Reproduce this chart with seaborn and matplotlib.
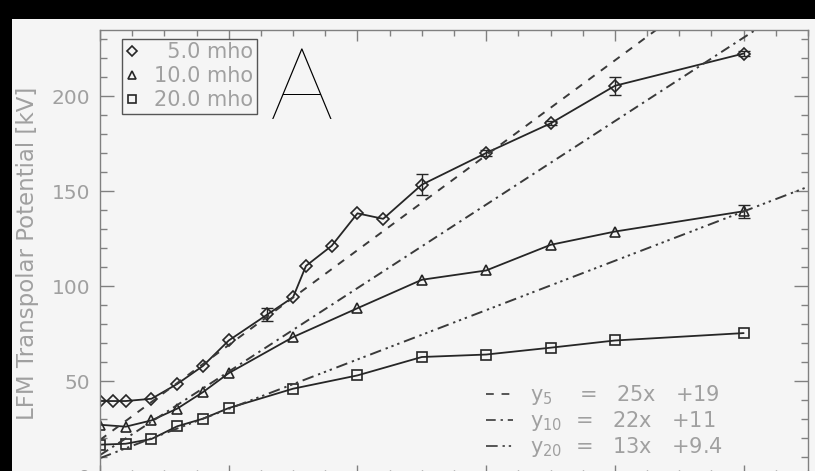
import numpy as np
import pandas as pd
import matplotlib
matplotlib.use("Agg")
import matplotlib.pyplot as plt
import seaborn as sns
from matplotlib.patches import Rectangle
from matplotlib.lines import Line2D
from matplotlib.ticker import MultipleLocator

# ---------------- data ----------------
series_labels = ["\u20075.0 mho", "10.0 mho", "20.0 mho"]
series_markers = ["D", "^", "s"]

x5 = [0.0, 0.2, 0.4, 0.8, 1.2, 1.6, 2.0, 2.6, 3.0, 3.2, 3.6, 4.0, 4.4, 5.0, 6.0, 7.0, 8.0, 10.0]
y5 = [39.5, 39.5, 39.5, 40.7, 48.5, 58.0, 71.4, 85.1, 94.2, 110.7, 121.3, 138.4, 135.5, 153.5, 170.2, 185.8, 205.6, 222.6]
e5 = [0, 0, 0, 0, 0, 0, 0, 3.5, 0, 0, 0, 0, 0, 5.7, 1.5, 1.0, 4.6, 1.5]

x10 = [0.0, 0.4, 0.8, 1.2, 1.6, 2.0, 3.0, 4.0, 5.0, 6.0, 7.0, 8.0, 10.0]
y10 = [27.0, 26.0, 29.3, 35.5, 44.2, 54.2, 73.2, 88.4, 103.4, 108.3, 121.8, 128.8, 139.5]
e10 = [0, 0, 0, 0, 0, 0, 0, 0, 0, 0, 0, 0, 3.5]

x20 = [0.0, 0.4, 0.8, 1.2, 1.6, 2.0, 3.0, 4.0, 5.0, 6.0, 7.0, 8.0, 10.0]
y20 = [16.5, 17.0, 19.5, 26.2, 30.2, 35.8, 46.0, 53.0, 62.7, 64.0, 67.6, 71.4, 75.3]
e20 = [0, 0, 0, 0, 0, 0, 0, 0, 0, 0, 0, 0, 0]

fit_slopes = [25, 22, 13]
fit_intercepts = [19, 11, 9.4]
fit_labels = [r"$\mathregular{y_{5}}$    =   25x   +19",
              r"$\mathregular{y_{10}}$  =   22x   +11",
              r"$\mathregular{y_{20}}$  =   13x   +9.4"]
fit_styles = [(0, (4, 4)), (0, (5, 2.5, 1.2, 2.5)), (0, (6, 2.5, 1.2, 2, 1.2, 2, 1.2, 2.5))]

y_label = "LFM Transpolar Potential [kV]"
panel_letter = "A"

# ---------------- style ----------------
sns.set_theme(style="ticks")
plt.rcParams["font.family"] = ["DejaVu Sans"]
BG = "#f5f5f5"
TXT = "#a0a0a0"
AX = "#808080"
INK = "#262626"

fig = plt.figure(figsize=(8.15, 4.71), dpi=100, facecolor=BG)
ax = fig.add_axes([100 / 815, -5 / 471, 708 / 815, 446 / 471])
ax.set_facecolor(BG)

# data series
xs = [x5, x10, x20]
ys = [y5, y10, y20]
es = [e5, e10, e20]
msizes = [6, 7.5, 7.5]
for x, y, e, lab, m, ms in zip(xs, ys, es, series_labels, series_markers, msizes):
    df = pd.DataFrame({"x": x, "y": y})
    sns.lineplot(data=df, x="x", y="y", ax=ax, color=INK, lw=1.3,
                 marker=m, markersize=ms, markerfacecolor="none",
                 markeredgecolor=INK, markeredgewidth=1.2, sort=False,
                 estimator=None, legend=False)
    e = np.asarray(e, float)
    mask = e > 0
    if mask.any():
        ax.errorbar(np.asarray(x)[mask], np.asarray(y)[mask], yerr=e[mask],
                    fmt="none", ecolor=INK, elinewidth=1.0, capsize=4, capthick=1.0)

# fit lines
xf = np.array([0.0, 11.0])
fit_handles = []
for s, b, ls in zip(fit_slopes, fit_intercepts, fit_styles):
    sns.lineplot(x=xf, y=s * xf + b, ax=ax, color="#3a3a3a", lw=1.4,
                 linestyle=ls, legend=False)
    fit_handles.append(Line2D([], [], color="#555555", lw=1.4, linestyle=ls))

ax.set_xlim(0, 11)
ax.set_ylim(0, 235)
ax.xaxis.set_major_locator(MultipleLocator(2))
ax.xaxis.set_minor_locator(MultipleLocator(0.5))
ax.yaxis.set_major_locator(MultipleLocator(50))
ax.yaxis.set_minor_locator(MultipleLocator(10))
ax.tick_params(axis="both", which="both", direction="in", top=True, right=True,
               color=AX, width=1.0, labelcolor=TXT, labelsize=14.5)
ax.tick_params(axis="y", which="major", length=10, pad=7)
ax.tick_params(axis="y", which="minor", length=5)
ax.tick_params(axis="x", which="major", length=8, labelbottom=False)
ax.tick_params(axis="x", which="minor", length=4)
for sp in ax.spines.values():
    sp.set_color(AX)
    sp.set_linewidth(1.0)
ax.set_xlabel("")
ax.set_ylabel(y_label, color=TXT, fontsize=16.5)
ax.yaxis.set_label_coords(-(100 - 39) / 708, 0.5)

# series legend
ser_handles = [Line2D([], [], linestyle="none", marker=m, markersize=ms * 0.8,
                      markerfacecolor="none", markeredgecolor=INK, markeredgewidth=1.2)
               for m, ms in zip(series_markers, msizes)]
leg1 = ax.legend(ser_handles, series_labels, loc="upper left",
                 bbox_to_anchor=(22 / 708, 1 - 9 / 446), fontsize=15,
                 labelcolor=TXT, frameon=True, fancybox=False, framealpha=1,
                 facecolor=BG, edgecolor="#555555", handlelength=0.7,
                 handletextpad=0.7, labelspacing=0.2, borderpad=0.15,
                 borderaxespad=0)
leg1.get_frame().set_linewidth(1.0)
ax.add_artist(leg1)

# fit legend
leg2 = ax.legend(fit_handles, fit_labels, loc="upper left",
                 bbox_to_anchor=((486 - 100) / 708, (476 - 383) / 446),
                 fontsize=15, labelcolor=TXT, frameon=False, handlelength=1.3,
                 handletextpad=0.8, labelspacing=0.1, borderpad=0, borderaxespad=0)

# panel letter
ax.text((270 - 100) / 708, (476 - 119) / 446, panel_letter, transform=ax.transAxes,
        fontsize=72, family="Lato", fontweight="light", color="black",
        va="baseline", ha="left")

# black scan borders
fig.patches.append(Rectangle((0, 1 - 19 / 471), 1, 19 / 471, transform=fig.transFigure,
                             facecolor="black", edgecolor="none", zorder=10))
fig.patches.append(Rectangle((0, 0), 12 / 815, 1, transform=fig.transFigure,
                             facecolor="black", edgecolor="none", zorder=10))

fig.savefig("out.png", dpi=100, facecolor=BG)
